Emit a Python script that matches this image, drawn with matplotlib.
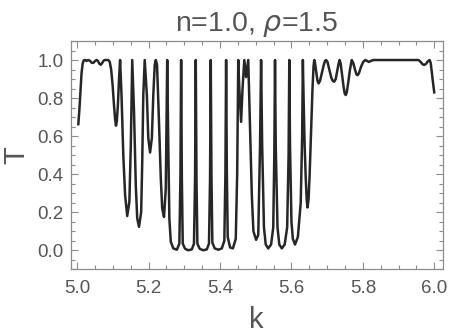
import numpy as np
import matplotlib
matplotlib.use('Agg')
from matplotlib import pyplot as plt
from matplotlib.ticker import MultipleLocator, FormatStrFormatter

# transmission T(k), points
k = [5.003, 5.006, 5.009, 5.012, 5.015, 5.018, 5.022, 5.026, 5.031, 5.036, 5.041,
     5.045, 5.050, 5.054, 5.058, 5.062, 5.066, 5.070, 5.074, 5.078, 5.087,
     5.091, 5.095, 5.099, 5.103, 5.106, 5.1085, 5.111, 5.114, 5.117, 5.120,
     5.124, 5.129, 5.134, 5.140, 5.146, 5.150, 5.154,
     5.159, 5.164, 5.168, 5.173, 5.179, 5.182, 5.185, 5.189,
     5.195, 5.199, 5.204, 5.209, 5.213, 5.217, 5.220,
     5.2235, 5.228, 5.234, 5.238, 5.243, 5.248, 5.2505, 5.252,
     5.255, 5.258, 5.262, 5.269, 5.279, 5.286, 5.289, 5.291,
     5.293, 5.2955, 5.302, 5.311, 5.321, 5.327, 5.330, 5.332,
     5.334, 5.3365, 5.343, 5.353, 5.363, 5.369, 5.372, 5.374,
     5.376, 5.3785, 5.385, 5.395, 5.405, 5.412, 5.415, 5.417,
     5.419, 5.4215, 5.428, 5.436, 5.444, 5.448, 5.451,
     5.454, 5.459, 5.463, 5.468, 5.473, 5.479,
     5.484, 5.489, 5.4935, 5.501, 5.507, 5.512, 5.515,
     5.518, 5.523, 5.528, 5.535, 5.543, 5.549, 5.552, 5.554,
     5.556, 5.561, 5.566, 5.573, 5.581, 5.588, 5.592, 5.594,
     5.596, 5.600, 5.604, 5.610, 5.618, 5.626, 5.630, 5.632,
     5.634, 5.637, 5.640, 5.643, 5.645, 5.648, 5.651, 5.655, 5.659, 5.662, 5.664,
     5.666, 5.670, 5.673, 5.676, 5.680, 5.685, 5.690, 5.694, 5.697,
     5.701, 5.706, 5.712, 5.716, 5.720, 5.724, 5.728, 5.732, 5.735,
     5.738, 5.742, 5.746, 5.749, 5.752, 5.755, 5.759, 5.764, 5.769,
     5.773, 5.778, 5.782, 5.785, 5.789, 5.795, 5.801, 5.807,
     5.812, 5.817, 5.822, 5.830, 5.870, 5.920, 5.956,
     5.962, 5.967, 5.972, 5.977, 5.982, 5.987, 5.990, 5.993, 5.996, 6.000]
T = [0.663, 0.74, 0.84, 0.93, 0.98, 0.998, 1.0, 0.995, 1.0, 0.995, 0.985,
     0.985, 0.995, 1.0, 0.995, 0.98, 0.975, 0.985, 0.997, 1.0, 1.0,
     0.99, 0.95, 0.87, 0.76, 0.69, 0.655, 0.68, 0.77, 0.90, 1.0,
     0.815, 0.50, 0.29, 0.18, 0.255, 0.55, 1.0,
     0.73, 0.34, 0.167, 0.123, 0.20, 0.46, 0.815, 1.0,
     0.815, 0.59, 0.514, 0.59, 0.815, 0.975, 1.0,
     0.975, 0.73, 0.38, 0.22, 0.175, 0.325, 0.73, 1.0,
     0.55, 0.167, 0.045, 0.01, 0.003, 0.035, 0.38, 1.0,
     0.38, 0.035, 0.008, 0.0, 0.005, 0.035, 0.38, 1.0,
     0.38, 0.035, 0.008, 0.0, 0.005, 0.035, 0.38, 1.0,
     0.38, 0.04, 0.01, 0.003, 0.01, 0.05, 0.40, 1.0,
     0.42, 0.07, 0.015, 0.01, 0.06, 0.40, 1.0,
     0.85, 0.675, 0.85, 1.0, 0.91, 1.0,
     0.64, 0.29, 0.10, 0.055, 0.08, 0.55, 1.0,
     0.55, 0.12, 0.03, 0.01, 0.03, 0.12, 0.50, 1.0,
     0.55, 0.12, 0.03, 0.01, 0.03, 0.12, 0.50, 1.0,
     0.55, 0.15, 0.06, 0.03, 0.07, 0.25, 0.60, 1.0,
     0.80, 0.55, 0.38, 0.26, 0.225, 0.27, 0.40, 0.62, 0.85, 0.97, 1.0,
     0.985, 0.93, 0.89, 0.877, 0.89, 0.93, 0.97, 0.995, 1.0,
     0.99, 0.95, 0.905, 0.89, 0.886, 0.90, 0.94, 0.98, 1.0,
     0.98, 0.92, 0.86, 0.825, 0.816, 0.83, 0.88, 0.95, 1.0,
     0.985, 0.95, 0.925, 0.92, 0.93, 0.965, 0.99, 1.0,
     0.995, 0.99, 0.995, 1.0, 1.0, 1.0, 1.0,
     0.99, 0.978, 0.974, 0.98, 0.993, 1.0, 0.985, 0.94, 0.89, 0.83]

grey = '#8c8c8c'
txt = '#555555'
plt.rcParams['font.family'] = ['Liberation Sans', 'DejaVu Sans']

fig = plt.figure(figsize=(4.5, 3.36), dpi=100)
ax = fig.add_axes([0.157, 0.1985, 0.827, 0.6795])
ax.plot(k, T, color='#262626', lw=1.8, solid_joinstyle='round')

ax.set_xlim(4.9815, 6.024)
ax.set_ylim(-0.1, 1.1)
ax.xaxis.set_major_locator(MultipleLocator(0.2))
ax.xaxis.set_minor_locator(MultipleLocator(0.05))
ax.yaxis.set_major_locator(MultipleLocator(0.2))
ax.yaxis.set_minor_locator(MultipleLocator(0.05))
ax.xaxis.set_major_formatter(FormatStrFormatter('%.1f'))
ax.yaxis.set_major_formatter(FormatStrFormatter('%.1f'))
ax.tick_params(which='both', direction='in', top=True, right=True, color=grey,
               labelcolor=txt, labelsize=13.5, width=0.8)
ax.tick_params(which='major', length=5)
ax.tick_params(which='minor', length=3)
ax.tick_params(axis='x', pad=8)
ax.tick_params(axis='y', pad=5)
for s in ax.spines.values():
    s.set_color(grey)
    s.set_linewidth(0.9)

ax.set_xlabel('k', fontsize=21, color=txt, labelpad=6)
ax.set_ylabel('T', fontsize=21, color=txt, va='center')
ax.yaxis.set_label_coords(-0.146, 0.5)
ax.set_title(r'n=1.0, $\rho$=1.5', fontsize=20.5, color=txt, pad=7)

fig.savefig('out.png', dpi=100)
